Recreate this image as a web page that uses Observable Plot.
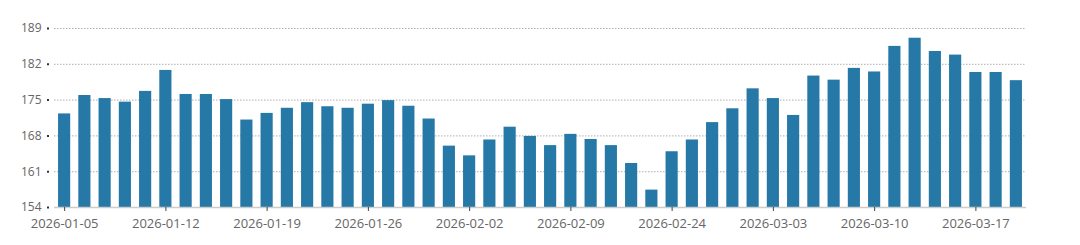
<!DOCTYPE html>
<html>
<head>
<meta charset="utf-8">
<script src="https://cdn.jsdelivr.net/npm/d3@7"></script>
<script src="https://cdn.jsdelivr.net/npm/@observablehq/plot@0.6"></script>
<style>
  html, body { margin: 0; padding: 0; background: #fff; }
  #chart svg { display: block; }
  #chart svg g[aria-label="x-axis tick label"] { font-size: 13px; }
  #chart svg g[aria-label="y-axis tick label"] { font-size: 12px; }
</style>
</head>
<body>
<div id="chart"></div>
<script>
const dates = [
  "2026-01-05","2026-01-06","2026-01-07","2026-01-08","2026-01-09",
  "2026-01-12","2026-01-13","2026-01-14","2026-01-15","2026-01-16",
  "2026-01-19","2026-01-20","2026-01-21","2026-01-22","2026-01-23",
  "2026-01-26","2026-01-27","2026-01-28","2026-01-29","2026-01-30",
  "2026-02-02","2026-02-03","2026-02-04","2026-02-05","2026-02-06",
  "2026-02-09","2026-02-10","2026-02-11","2026-02-12","2026-02-13",
  "2026-02-24","2026-02-25","2026-02-26","2026-02-27","2026-03-02",
  "2026-03-03","2026-03-04","2026-03-05","2026-03-06","2026-03-09",
  "2026-03-10","2026-03-11","2026-03-12","2026-03-13","2026-03-16",
  "2026-03-17","2026-03-18","2026-03-19"
];
const values = [
  172.3, 175.9, 175.3, 174.6, 176.7,
  180.8, 176.1, 176.1, 175.1, 171.1,
  172.4, 173.4, 174.5, 173.7, 173.4,
  174.2, 174.9, 173.8, 171.3, 166.0,
  164.1, 167.2, 169.7, 167.9, 166.1,
  168.3, 167.3, 166.1, 162.6, 157.4,
  164.9, 167.2, 170.6, 173.3, 177.2,
  175.3, 172.0, 179.7, 178.9, 181.2,
  180.5, 185.5, 187.1, 184.5, 183.8,
  180.4, 180.4, 178.8
];
const xTicks = ["2026-01-05","2026-01-12","2026-01-19","2026-01-26","2026-02-02","2026-02-09","2026-02-24","2026-03-03","2026-03-10","2026-03-17"];
const yTicks = [154, 161, 168, 175, 182, 189];

const data = dates.map((d, i) => ({date: d, value: values[i]}));

const chart = Plot.plot({
  width: 1080,
  height: 245,
  marginLeft: 54,
  marginRight: 54,
  marginTop: 28,
  marginBottom: 38,
  style: {fontFamily: "'Open Sans', sans-serif", background: "#fff"},
  x: {type: "band", domain: dates, paddingInner: 0.4, paddingOuter: 0.2, round: false, label: null},
  y: {domain: [154, 189], label: null},
  marks: [
    Plot.gridY(yTicks.filter(v => v > 154), {stroke: "#999", strokeOpacity: 1, strokeDasharray: "1.5,1.5", strokeWidth: 0.8}),
    Plot.barY(data, {x: "date", y1: 154, y2: "value", fill: "#2678a6"}),
    Plot.ruleY([154], {stroke: "#ccc", strokeWidth: 1.5}),
    Plot.axisY(yTicks, {label: null, tickSize: 2, strokeWidth: 2, stroke: "#333", dx: -5, tickPadding: 6, fontSize: 12, fill: "#666"}),
    Plot.axisX(xTicks, {label: null, tickSize: 4, stroke: "#444", tickPadding: 7, fontSize: 13, fill: "#666"})
  ]
});
document.getElementById("chart").appendChild(chart);
</script>
</body>
</html>
